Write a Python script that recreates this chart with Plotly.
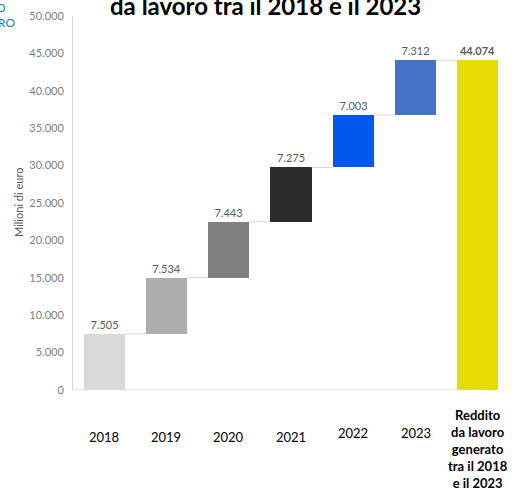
import plotly.graph_objects as go

# Annual contributions (millions of euro) and the cumulative total
years = ["2018", "2019", "2020", "2021", "2022", "2023"]
yearly_values = [7505, 7534, 7443, 7275, 7003, 7312]
total_value = 44074
total_label = "Reddito<br>da lavoro<br>generato<br>tra il 2018<br>e il 2023"

bar_colors = ["#d9d9d9", "#aeaeae", "#7f7f7f", "#2b2b2b", "#0058ee", "#4472c4", "#e6dc00"]
y_ticks = [0, 5000, 10000, 15000, 20000, 25000, 30000, 35000, 40000, 45000, 50000]


def fmt_it(v):
    return f"{v:,}".replace(",", ".")


n = len(years)
xs = list(range(n + 1))
bases = []
running = 0
for v in yearly_values:
    bases.append(running)
    running += v
bases.append(0)
heights = yearly_values + [total_value]
texts = [fmt_it(v) for v in yearly_values] + ["<b>" + fmt_it(total_value) + "</b>"]

bar_w = 0.66

fig = go.Figure()

# connector lines between consecutive bar tops
cx, cy = [], []
tops = [b + h for b, h in zip(bases, heights)]
for i in range(n):
    cx += [xs[i] + bar_w / 2, xs[i + 1] - bar_w / 2, None]
    cy += [tops[i], tops[i], None]
fig.add_trace(go.Scatter(x=cx, y=cy, mode="lines",
                         line=dict(color="#d9d9d9", width=1),
                         hoverinfo="skip", showlegend=False))

fig.add_trace(go.Bar(
    x=xs, y=heights, base=bases, width=bar_w,
    marker=dict(color=bar_colors, line=dict(width=0)),
    text=texts, textposition="outside", cliponaxis=False,
    textfont=dict(family="Lato", size=11, color="#595959"),
    showlegend=False,
))

# baseline axis
fig.add_shape(type="line", xref="x", yref="y", x0=-0.5, x1=6.17, y0=0, y1=0,
              line=dict(color="#d9d9d9", width=1), layer="above")

annotations = []
# category labels
label_y = [-0.126, -0.126, -0.126, -0.126, -0.114, -0.114]
for i, yr in enumerate(years):
    annotations.append(dict(x=xs[i], y=label_y[i], xref="x", yref="paper",
                            text=yr, showarrow=False, yanchor="middle",
                            font=dict(family="Lato", size=13, color="#000000")))
annotations.append(dict(x=xs[n], y=-0.158, xref="x", yref="paper",
                        text="<b>" + total_label + "</b>", showarrow=False,
                        yanchor="middle", align="center",
                        font=dict(family="Lato", size=13, color="#000000")))
# axis title
annotations.append(dict(x=(18 - 73) / 436, y=(390 - 203) / 374, xref="paper", yref="paper",
                        text="Milioni di euro", textangle=-90, showarrow=False,
                        xanchor="center", yanchor="middle",
                        font=dict(family="Lato", size=11, color="#595959")))
# chart title
annotations.append(dict(x=(265 - 73) / 436, y=(390 - 6) / 374, xref="paper", yref="paper",
                        text="<b>da lavoro tra il 2018 e il 2023</b>", showarrow=False,
                        yanchor="middle",
                        font=dict(family="Lato", size=24, color="#000000")))
# logo fragment at the left edge
annotations.append(dict(x=(8 - 73) / 436, y=(390 - 8) / 374, xref="paper", yref="paper",
                        text="O", showarrow=False, xanchor="right", yanchor="middle",
                        font=dict(family="Lato", size=12, color="#2e75c8")))
annotations.append(dict(x=(17 - 73) / 436, y=(390 - 23) / 374, xref="paper", yref="paper",
                        text="RO", showarrow=False, xanchor="right", yanchor="middle",
                        font=dict(family="Lato", size=12, color="#2e75c8")))

fig.update_layout(
    width=512, height=504,
    margin=dict(l=73, r=3, t=16, b=114),
    paper_bgcolor="white", plot_bgcolor="white",
    separators=",.",
    bargap=0,
    annotations=annotations,
    xaxis=dict(range=[-0.5, 6.5], showticklabels=False, showgrid=False,
               zeroline=False, showline=False, ticks=""),
    yaxis=dict(range=[0, 50000], tickvals=y_ticks, tickformat=",d",
               showgrid=False, zeroline=False, showline=True,
               linecolor="#d9d9d9", linewidth=1, ticks="",
               ticklabelstandoff=6,
               tickfont=dict(family="Lato", size=11, color="#7f7f7f")),
)

fig.write_html("out.html")
